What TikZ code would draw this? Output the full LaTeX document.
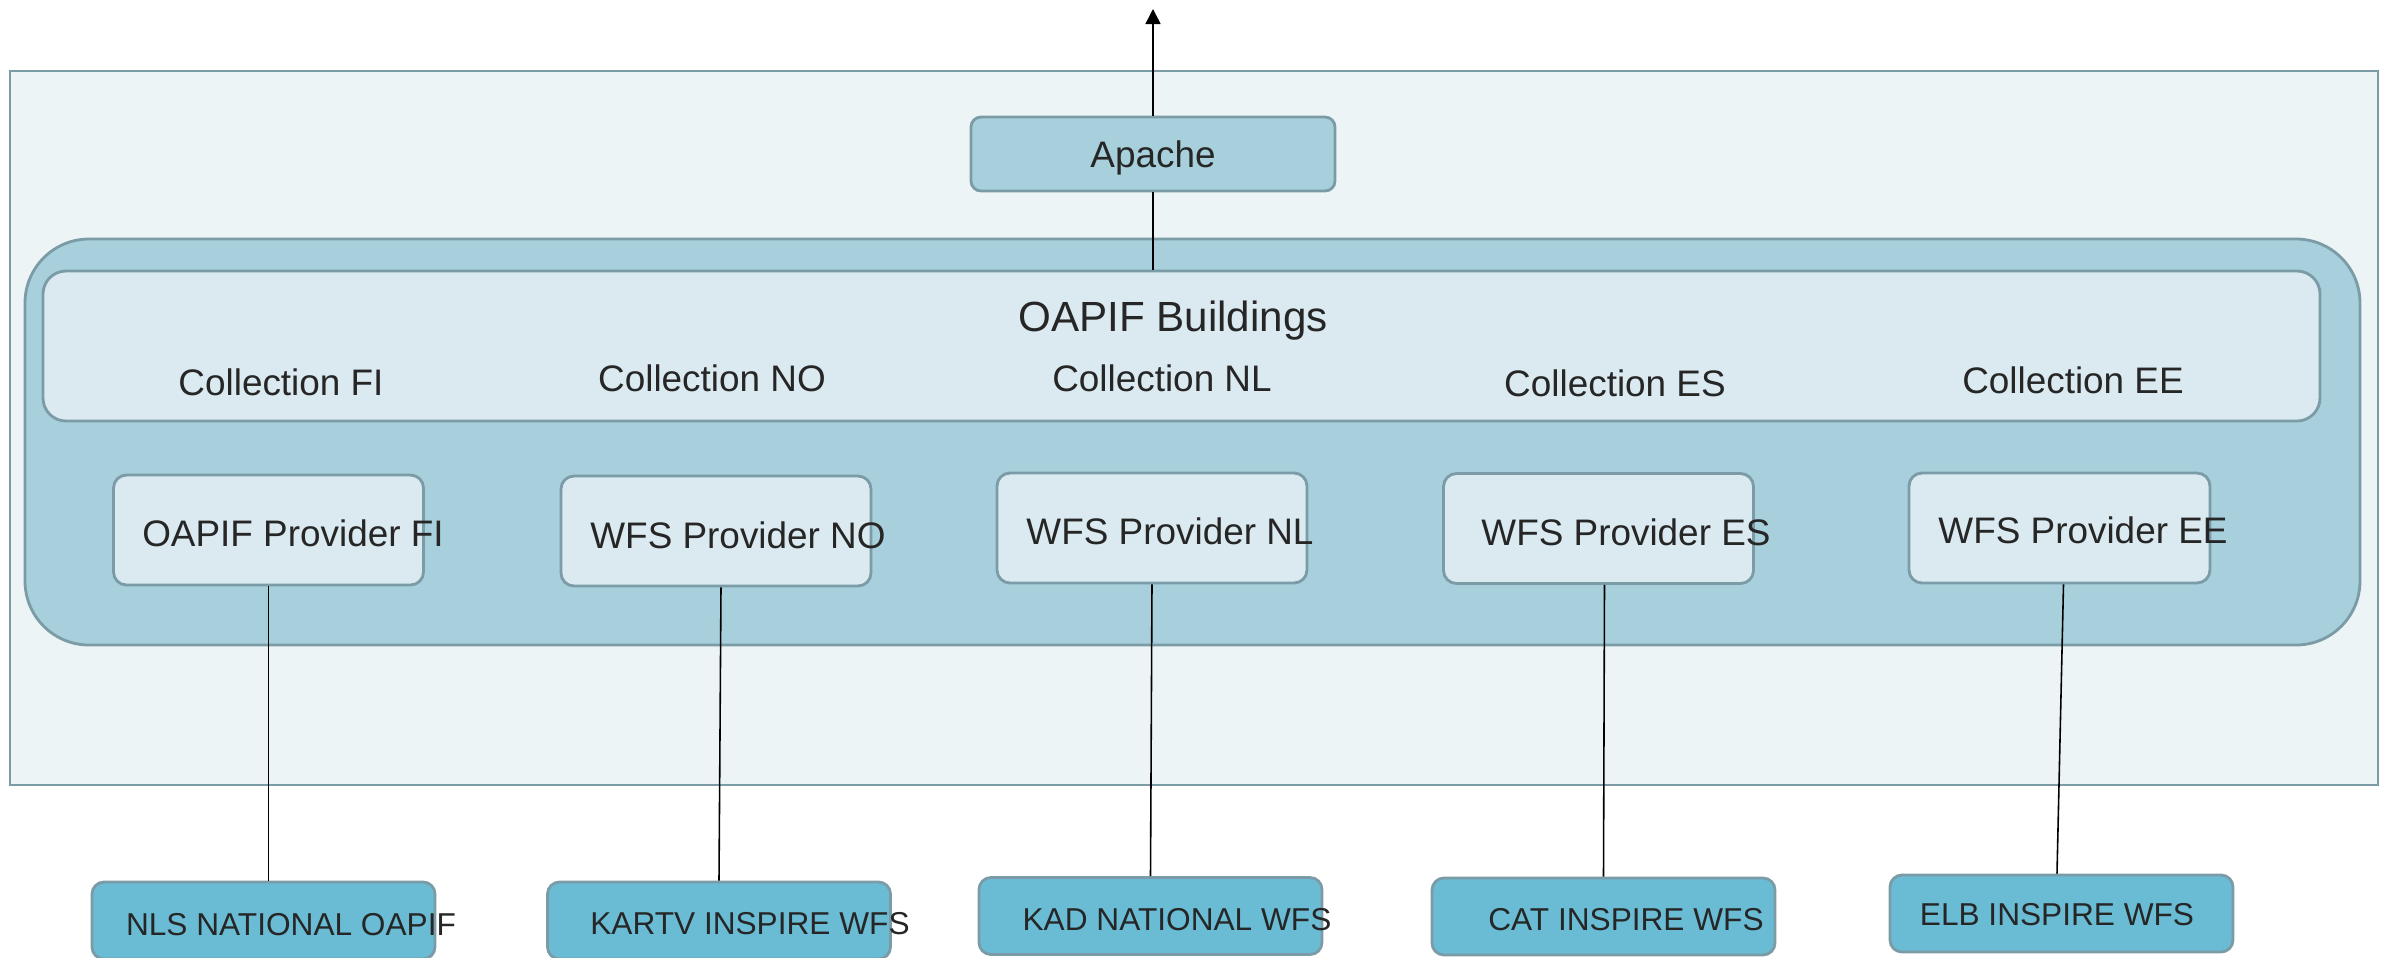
\documentclass[tikz,border=0pt]{standalone}
\usepackage{fontspec}
\setmainfont{Liberation Sans}
\usetikzlibrary{arrows.meta}

\definecolor{frame_fill}{HTML}{ECF4F6}
\definecolor{server_fill}{HTML}{A7D0DC}
\definecolor{light_fill}{HTML}{DAEAF0}
\definecolor{source_fill}{HTML}{69BCD4}
\definecolor{border_col}{HTML}{7B9BA6}
\definecolor{text_col}{HTML}{262626}

\begin{document}
\begin{tikzpicture}[
    frame_node/.style={draw=border_col,line width=0.8pt,fill=frame_fill,inner sep=0pt},
    provider_node/.style={draw=border_col,line width=0.8pt,fill=light_fill,rounded corners=0.13cm,minimum width=3.1cm,minimum height=1.1cm,inner sep=0pt},
    source_node/.style={draw=border_col,line width=0.8pt,fill=source_fill,rounded corners=0.12cm,minimum width=3.43cm,minimum height=0.77cm,inner sep=0pt},
    text_node/.style={anchor=base,inner sep=0pt,text=text_col,font=\fontsize{10.5}{12}\selectfont},
    small_text/.style={text_node,font=\fontsize{9}{11}\selectfont}]

     \useasboundingbox (0,0) rectangle (23.89,-9.57);

     \node[frame_node,minimum width=23.68cm,minimum height=7.14cm] (frame) at (11.94,-4.28) {};
     \node[frame_node,fill=server_fill,rounded corners=0.64cm,minimum width=23.35cm,minimum height=4.06cm] (server) at (11.925,-4.42) {};
     \node[frame_node,fill=light_fill,rounded corners=0.23cm,minimum width=22.77cm,minimum height=1.5cm] (buildings) at (11.815,-3.46) {};
     \node[frame_node,fill=server_fill,rounded corners=0.1cm,minimum width=3.64cm,minimum height=0.74cm,text height=7.5pt,text depth=0pt,text=text_col,font=\fontsize{10.5}{12}\selectfont] (apache) at (11.53,-1.54) {Apache};
     \coordinate (out) at (11.53,-0.09);

     \node[text_node,font=\fontsize{12}{14}\selectfont] (title) at (11.73,-3.31) {OAPIF Buildings};
     \node[text_node] (cfi) at (2.81,-3.95) {Collection FI};
     \node[text_node] (cno) at (7.12,-3.91) {Collection NO};
     \node[text_node] (cnl) at (11.62,-3.91) {Collection NL};
     \node[text_node] (ces) at (16.15,-3.96) {Collection ES};
     \node[text_node] (cee) at (20.73,-3.93) {Collection EE};

     % providers
     \node[provider_node] (fi) at (2.685,-5.30) {};
     \node[provider_node] (no) at (7.16,-5.31) {};
     \node[provider_node] (nl) at (11.52,-5.28) {};
     \node[provider_node] (es) at (15.985,-5.285) {};
     \node[provider_node,minimum width=3.01cm] (ee) at (20.595,-5.28) {};

     \node[text_node] (tfi) at (2.93,-5.46) {OAPIF Provider FI};
     \node[text_node] (tno) at (7.38,-5.48) {WFS Provider NO};
     \node[text_node] (tnl) at (11.70,-5.44) {WFS Provider NL};
     \node[text_node] (tes) at (16.26,-5.45) {WFS Provider ES};
     \node[text_node] (tee) at (20.83,-5.43) {WFS Provider EE};

     % sources
     \node[source_node] (nls) at (2.635,-9.205) {};
     \node[source_node] (kartv) at (7.19,-9.205) {};
     \node[source_node] (kad) at (11.505,-9.16) {};
     \node[source_node] (cat) at (16.035,-9.165) {};
     \node[source_node] (elb) at (20.615,-9.135) {};

     \node[small_text] (tnls) at (2.91,-9.35) {NLS NATIONAL OAPIF};
     \node[small_text] (tkartv) at (7.50,-9.34) {KARTV INSPIRE WFS};
     \node[small_text] (tkad) at (11.77,-9.30) {KAD NATIONAL WFS};
     \node[small_text] (tcat) at (16.26,-9.30) {CAT INSPIRE WFS};
     \node[small_text] (telb) at (20.57,-9.25) {ELB INSPIRE WFS};

     \path[-{Triangle[length=1.5mm,width=1.5mm]},draw,line width=0.45pt]
     (apache) edge (out)
     ;

     \path[draw,line width=0.55pt]
     (apache.south) edge (apache.south |- buildings.north)
     ;

     \path[draw,line width=0.45pt]
     (fi.south) edge (fi.south |- nls.north)
     ([xshift=0.05cm]no.south) edge (kartv.north)
     (nl.south) edge (kad.north)
     ([xshift=0.06cm]es.south) edge (cat.north)
     ([xshift=0.04cm]ee.south) edge ([xshift=-0.045cm]elb.north)
     ;
 \end{tikzpicture}
\end{document}
